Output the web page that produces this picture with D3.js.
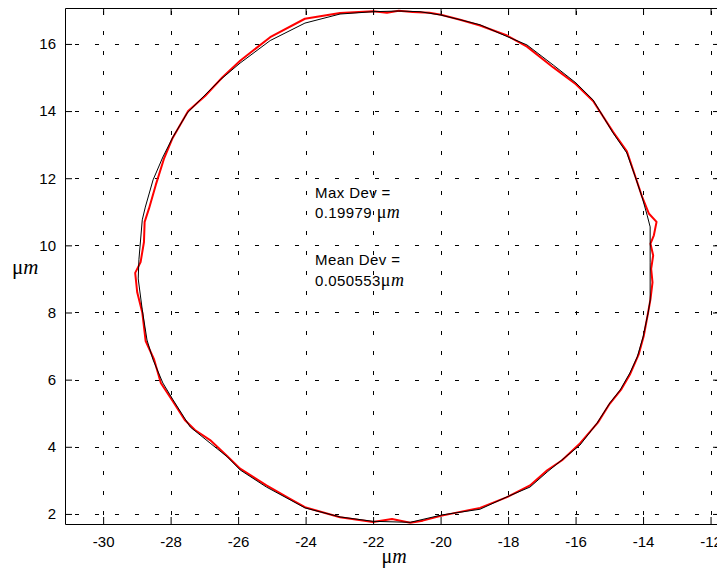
<!DOCTYPE html>
<html>
<head>
<meta charset="utf-8">
<script src="https://cdn.jsdelivr.net/npm/d3@7"></script>
<style>
body { margin: 0; background: #fff; overflow: hidden; }
text { font-family: "Liberation Sans", Arial, sans-serif; fill: #000; }
.unit { font-family: "Liberation Serif", "Times New Roman", serif; }
</style>
</head>
<body>
<svg id="chart"></svg>
<script>
const xTicks = [-30, -28, -26, -24, -22, -20, -18, -16, -14, -12];
const yTicks = [2, 4, 6, 8, 10, 12, 14, 16];

const blackX = [-22.00, -21.24, -20.61, -19.99, -19.42, -18.83, -18.03, -17.44, -16.66, -15.99,
    -15.48, -14.89, -14.48, -14.23, -14.03, -13.88, -13.79, -13.79, -13.79, -13.85,
    -14.00, -14.17, -14.39, -14.68, -14.98, -15.36, -15.87, -16.84, -17.35, -18.03,
    -18.83, -19.96, -20.90, -22.00, -22.98, -24.02, -24.46, -25.16, -25.94, -26.32,
    -26.83, -27.42, -27.93, -28.23, -28.52, -28.70, -28.84, -28.96, -28.94, -28.84,
    -28.75, -28.52, -28.23, -27.93, -27.51, -27.04, -26.53, -25.94, -25.05, -24.02,
    -22.98, -22.00];
const blackY = [16.96, 16.98, 16.96, 16.86, 16.72, 16.57, 16.22, 15.97, 15.37, 14.84,
    14.33, 13.35, 12.75, 12.04, 11.44, 10.9, 10.55, 9.5, 8.37, 7.99,
    7.27, 6.68, 6.2, 5.69, 5.31, 4.71, 4.05, 3.25, 2.8, 2.51,
    2.14, 1.97, 1.75, 1.78, 1.91, 2.18, 2.42, 2.8, 3.31, 3.7,
    4.11, 4.59, 5.4, 5.9, 6.59, 7.18, 8.08, 9.0, 9.57, 10.76,
    11.14, 11.95, 12.63, 13.23, 13.94, 14.42, 14.93, 15.43, 16.1, 16.62,
    16.89, 16.96];

// fitted trace (red)
const redX = [-22.00, -21.59, -21.24, -20.83, -20.33, -19.99, -19.42, -18.83, -18.03, -17.44,
    -16.66, -15.99, -15.48, -14.89, -14.48, -14.23, -14.03, -13.83, -13.60, -13.68,
    -13.78, -13.70, -13.76, -13.72, -13.78, -13.85, -13.98, -14.13, -14.39, -14.64,
    -14.99, -15.34, -15.87, -16.40, -16.84, -17.35, -18.03, -18.83, -19.96, -20.53,
    -20.90, -21.44, -22.00, -22.98, -24.02, -24.46, -25.16, -25.94, -26.32, -26.83,
    -27.28, -27.58, -27.93, -28.29, -28.49, -28.74, -28.84, -28.99, -29.05, -28.89,
    -28.79, -28.77, -28.64, -28.44, -28.19, -27.94, -27.48, -26.98, -26.47, -25.94,
    -25.05, -24.02, -22.98, -22.00];
const redY = [16.97, 16.93, 16.99, 16.95, 16.93, 16.87, 16.72, 16.55, 16.25, 15.92,
    15.3, 14.8, 14.3, 13.38, 12.8, 12.05, 11.45, 10.95, 10.7, 10.3,
    10.05, 9.7, 9.3, 8.9, 8.4, 8.0, 7.3, 6.75, 6.15, 5.72,
    5.28, 4.72, 4.1, 3.6, 3.3, 2.85, 2.5, 2.18, 1.95, 1.8,
    1.74, 1.85, 1.76, 1.9, 2.2, 2.45, 2.85, 3.35, 3.72, 4.2,
    4.5, 4.8, 5.35, 5.9, 6.6, 7.15, 8.0, 8.6, 9.18, 9.5,
    10.1, 10.7, 11.1, 11.8, 12.6, 13.2, 14.0, 14.45, 15.0, 15.5,
    16.2, 16.75, 16.92, 16.97];

const maxDev = "0.19979";
const meanDev = "0.050553";

const width = 717;
const height = 569;

const svg = d3.select("#chart")
    .attr("width", width)
    .attr("height", height);

const x = d3.scaleLinear().domain([-31.13, -11.72]).range([65, 720]);
const y = d3.scaleLinear().domain([1.70, 17.07]).range([524, 8]);

// dotted grid
const grid = svg.append("g").attr("class", "grid")
    .attr("stroke", "#000")
    .attr("stroke-width", 1)
    .attr("stroke-dasharray", "4,16");

grid.selectAll(".vgrid")
    .data(xTicks)
    .join("line")
    .attr("class", "vgrid")
    .attr("x1", d => Math.round(x(d)) + 0.5)
    .attr("x2", d => Math.round(x(d)) + 0.5)
    .attr("y1", y.range()[1])
    .attr("y2", y.range()[0])
    .attr("stroke-dashoffset", 17);

grid.selectAll(".hgrid")
    .data(yTicks)
    .join("line")
    .attr("class", "hgrid")
    .attr("x1", x.range()[0])
    .attr("x2", x.range()[1])
    .attr("y1", d => Math.round(y(d)) + 0.5)
    .attr("y2", d => Math.round(y(d)) + 0.5)
    .attr("stroke-dashoffset", 10);

// traces
const line = d3.line()
    .x(d => x(d[0]))
    .y(d => y(d[1]));

svg.append("path")
    .datum(d3.zip(redX, redY))
    .attr("fill", "none")
    .attr("stroke", "#ff0000")
    .attr("stroke-width", 2)
    .attr("stroke-linejoin", "round")
    .attr("d", line);

svg.append("path")
    .datum(d3.zip(blackX, blackY))
    .attr("fill", "none")
    .attr("stroke", "#000")
    .attr("stroke-width", 1)
    .attr("d", line);

// axes, ticks inside like matlab
const fmt = d => String(d); // plain hyphen, not the unicode minus
const axisBottomG = svg.append("g")
    .attr("transform", `translate(0,${y.range()[0]})`)
    .call(d3.axisBottom(x).tickValues(xTicks).tickFormat(fmt).tickSizeInner(-7).tickSizeOuter(0).tickPadding(12));
const axisTopG = svg.append("g")
    .attr("transform", `translate(0,${y.range()[1]})`)
    .call(d3.axisTop(x).tickValues(xTicks).tickFormat("").tickSizeInner(-7).tickSizeOuter(0));
const axisLeftG = svg.append("g")
    .attr("transform", `translate(${x.range()[0]},0)`)
    .call(d3.axisLeft(y).tickValues(yTicks).tickFormat(fmt).tickSizeInner(-7).tickSizeOuter(0).tickPadding(9));
const axisRightG = svg.append("g")
    .attr("transform", `translate(${x.range()[1]},0)`)
    .call(d3.axisRight(y).tickValues(yTicks).tickFormat("").tickSizeInner(-7).tickSizeOuter(0));

svg.selectAll(".domain, .tick line").attr("stroke", "#000").attr("stroke-width", 1);
svg.selectAll(".tick text")
    .attr("fill", "#000")
    .style("font-size", "15px")
    .style("font-family", "'Liberation Sans', Arial, sans-serif");

// axis labels
function unitLabel(sel, size) {
    sel.append("tspan").attr("class", "unit").style("font-size", size + "px").text("\u03bc");
    sel.append("tspan").attr("class", "unit").style("font-size", size + "px").style("font-style", "italic").text("m");
}

svg.append("text")
    .attr("x", 394)
    .attr("y", 563)
    .attr("text-anchor", "middle")
    .call(unitLabel, 20);

svg.append("text")
    .attr("x", 12)
    .attr("y", 274)
    .call(unitLabel, 21);

// annotation
const note = svg.append("g")
    .style("font-size", "15px")
    .style("letter-spacing", "0.4px");

note.append("text").attr("x", x(-23.72)).attr("y", y(11.41)).text("Max  Dev =");
note.append("text").attr("x", x(-23.72)).attr("y", y(10.82))
    .text(maxDev + " ")
    .call(unitLabel, 18);
note.append("text").attr("x", x(-23.72)).attr("y", y(9.42)).text("Mean Dev =");
note.append("text").attr("x", x(-23.72)).attr("y", y(8.79))
    .text(meanDev)
    .call(unitLabel, 18);
</script>
</body>
</html>
